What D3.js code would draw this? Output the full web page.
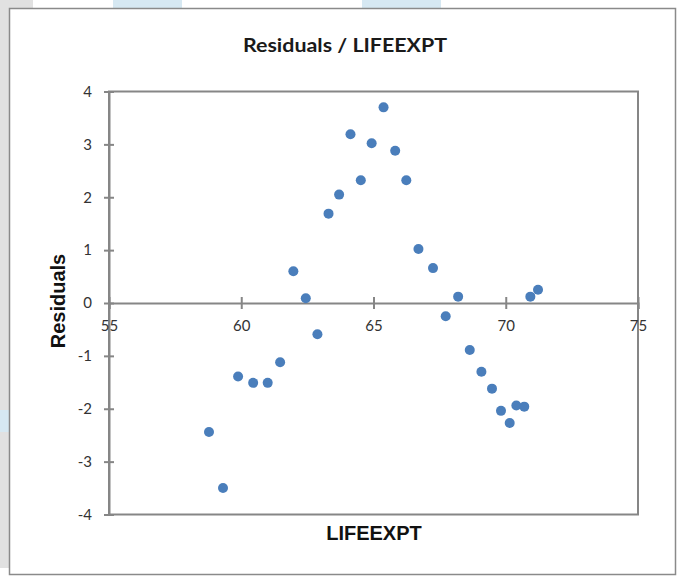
<!DOCTYPE html>
<html>
<head>
<meta charset="utf-8">
<script src="https://cdn.jsdelivr.net/npm/d3@7"></script>
<style>
  body { margin: 0; background: #fff; }
  svg { display: block; }
</style>
</head>
<body>
<svg class="scatter" width="681" height="577"></svg>
<script>
// LIFEEXPT values and residuals
var lifeExpt = [58.78, 59.31, 59.88, 60.45, 61.0, 61.47, 61.97, 62.44, 62.88, 63.3,
                63.7, 64.13, 64.52, 64.93, 65.38, 65.82, 66.24, 66.7, 67.25, 67.73,
                68.2, 68.64, 69.08, 69.48, 69.82, 70.15, 70.4, 70.7, 70.93, 71.22];
var residuals = [-2.44, -3.5, -1.39, -1.51, -1.51, -1.12, 0.6, 0.09, -0.59, 1.69,
                 2.05, 3.19, 2.32, 3.02, 3.7, 2.88, 2.32, 1.02, 0.66, -0.25,
                 0.12, -0.89, -1.3, -1.62, -2.04, -2.27, -1.94, -1.96, 0.12, 0.25];
var xTicks = [55, 60, 65, 70, 75];
var yTicks = [-4, -3, -2, -1, 0, 1, 2, 3, 4];

var data = lifeExpt.map(function(d, i) { return { x: d, y: residuals[i] }; });

var svg = d3.select(".scatter");

// surrounding page bits
svg.append("rect").attr("x", 0).attr("y", 0).attr("width", 9).attr("height", 568).attr("fill", "#e1e1e1");
svg.append("rect").attr("x", 0).attr("y", 0).attr("width", 33).attr("height", 8).attr("fill", "#e1e1e1");
svg.append("rect").attr("x", 113).attr("y", 0).attr("width", 69).attr("height", 8).attr("fill", "#d6e8f2");
svg.append("rect").attr("x", 362).attr("y", 0).attr("width", 79).attr("height", 8).attr("fill", "#d6e8f2");
svg.append("rect").attr("x", 0).attr("y", 410).attr("width", 9).attr("height", 22).attr("fill", "#d6e8f2");

// chart frame
svg.append("rect")
    .attr("x", 9.5).attr("y", 8.5)
    .attr("width", 666).attr("height", 566)
    .attr("fill", "#fff")
    .attr("stroke", "#8a8a8a")
    .attr("stroke-width", 1.5);

var x = d3.scaleLinear().domain([55, 75]).range([109, 638]);
var y = d3.scaleLinear().domain([-4, 4]).range([514.5, 91.5]);

var axisColor = "#868686";
var g = svg.append("g");

// plot area border
g.append("rect")
    .attr("x", x(55)).attr("y", y(4))
    .attr("width", x(75) - x(55)).attr("height", y(-4) - y(4))
    .attr("fill", "none")
    .attr("stroke", axisColor)
    .attr("stroke-width", 2);

var fmt = function(d) { return String(d); };

// y axis
var yAxis = g.append("g")
    .attr("transform", "translate(" + x(55) + ",0)")
    .call(d3.axisLeft(y).tickValues(yTicks).tickFormat(fmt).tickSize(5).tickPadding(12));
yAxis.selectAll(".tick line").attr("x2", 5).attr("x1", -5);

// x axis on the zero line
var xAxis = g.append("g")
    .attr("transform", "translate(0," + y(0) + ")")
    .call(d3.axisBottom(x).tickValues(xTicks).tickFormat(fmt).tickSize(6).tickPadding(11));
xAxis.selectAll(".tick line").attr("y1", -6).attr("y2", 6);

[yAxis, xAxis].forEach(function(a) {
  a.select(".domain").attr("stroke", axisColor).attr("stroke-width", 2);
  a.selectAll(".tick line").attr("stroke", axisColor).attr("stroke-width", 2);
  a.selectAll(".tick text")
      .attr("fill", "#333")
      .style("font-family", "Lato, 'Open Sans', sans-serif")
      .style("font-size", "15px");
});

// points
g.selectAll(".dot")
    .data(data)
  .enter().append("circle")
    .attr("class", "dot")
    .attr("cx", function(d) { return x(d.x); })
    .attr("cy", function(d) { return y(d.y); })
    .attr("r", 5)
    .attr("fill", "#4a7ebb");

// titles
svg.append("text")
    .attr("x", 345).attr("y", 52)
    .attr("text-anchor", "middle")
    .style("font-family", "Lato, 'Open Sans', sans-serif")
    .style("font-weight", "bold")
    .style("font-size", "18px")
    .attr("textLength", 204)
    .attr("lengthAdjust", "spacingAndGlyphs")
    .attr("fill", "#1a1a1a")
    .text("Residuals / LIFEEXPT");

svg.append("text")
    .attr("x", 374).attr("y", 540)
    .attr("text-anchor", "middle")
    .style("font-family", "'Liberation Sans', Arial, sans-serif")
    .style("font-weight", "bold")
    .style("font-size", "20px")
    .attr("fill", "#111")
    .text("LIFEEXPT");

svg.append("text")
    .attr("transform", "translate(65,301) rotate(-90)")
    .attr("text-anchor", "middle")
    .style("font-family", "'Liberation Sans', Arial, sans-serif")
    .style("font-weight", "bold")
    .style("font-size", "20px")
    .attr("fill", "#111")
    .text("Residuals");
</script>
</body>
</html>
